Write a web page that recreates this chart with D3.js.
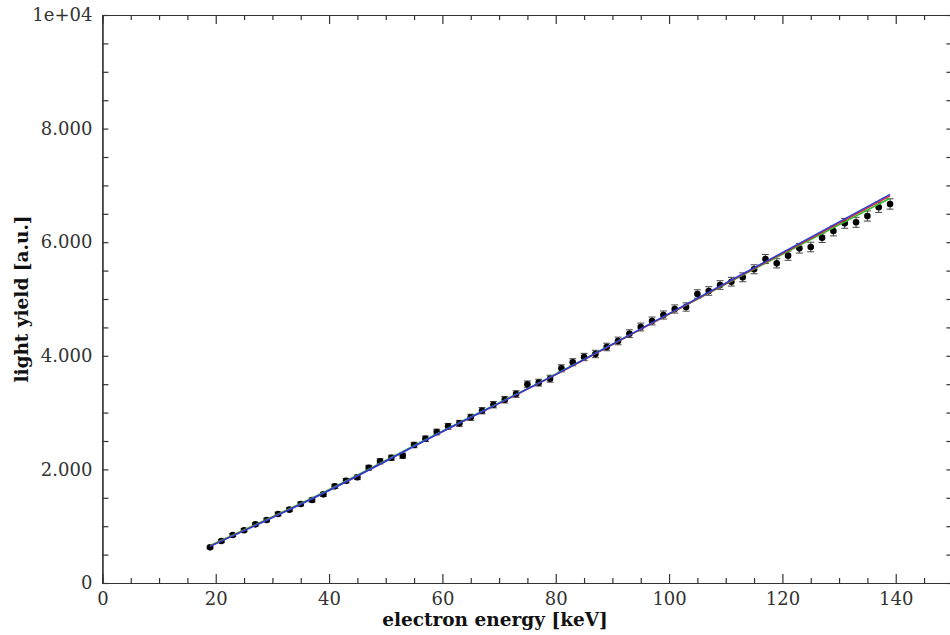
<!DOCTYPE html>
<html>
<head>
<meta charset="utf-8">
<script src="https://cdn.jsdelivr.net/npm/d3@7"></script>
<style>
  body { margin: 0; background: #fff; }
  svg { display: block; font-family: "DejaVu Serif", serif; }
</style>
</head>
<body>
<svg id="chart"></svg>
<script>
// measured electron energies [keV]
const energy = [19, 21, 23, 25, 27, 29, 31, 33, 35, 37, 39, 41, 43, 45, 47, 49, 51, 53, 55, 57,
  59, 61, 63, 65, 67, 69, 71, 73, 75, 77, 79, 81, 83, 85, 87, 89, 91, 93, 95, 97,
  99, 101, 103, 105, 107, 109, 111, 113, 115, 117, 119, 121, 123, 125, 127, 129, 131, 133, 135, 137, 139];

// light yield per energy bin [a.u.]
const lightYield = [628, 739, 845, 928, 1033, 1109, 1215, 1291, 1391, 1461, 1561, 1702, 1801, 1861, 2030, 2142, 2206, 2241, 2430, 2540,
  2658, 2758, 2811, 2917, 3033, 3139, 3227, 3327, 3498, 3527, 3597, 3780, 3886, 3979, 4032, 4155, 4261, 4389, 4507, 4613,
  4718, 4824, 4859, 5088, 5141, 5246, 5305, 5382, 5523, 5704, 5628, 5763, 5892, 5915, 6080, 6197, 6332, 6350, 6461, 6614, 6673];

// uncertainty on the light yield
const yieldErr = [22, 24, 26, 27, 29, 30, 31, 33, 34, 35, 37, 38, 40, 41, 42, 44, 45, 46, 48, 49,
  50, 51, 52, 54, 55, 56, 57, 58, 59, 60, 61, 62, 63, 64, 65, 66, 67, 68, 69, 70,
  71, 72, 73, 74, 75, 76, 77, 78, 79, 80, 81, 82, 83, 84, 85, 86, 87, 88, 89, 90, 91];

// fit curves sampled along the energy range
const fitEnergy = [19, 39, 59, 79, 99, 119, 139];
const fitGreen = [660, 1595, 2625, 3625, 4680, 5735, 6775];
const fitRed = [650, 1582, 2612, 3615, 4682, 5750, 6815];
const fitBlue = [645, 1580, 2615, 3620, 4690, 5765, 6843];

const xTicks = [0, 20, 40, 60, 80, 100, 120, 140];
const yTicks = [0, 2000, 4000, 6000, 8000, 10000];
const yTickLabels = ["0", "2.000", "4.000", "6.000", "8.000", "1e+04"];

const width = 950, height = 635;
const svg = d3.select("#chart").attr("width", width).attr("height", height);

const x = d3.scaleLinear().domain([0, 150]).range([102.4, 952.4]);
const y = d3.scaleLinear().domain([0, 10000]).range([583, 15]);

const axisColor = "#333";
const xMinor = d3.range(0, 151, 5).filter((d) => d % 20 !== 0);
const yMinor = d3.range(0, 10001, 500).filter((d) => d % 2000 !== 0);

// frame with inward ticks on all four sides
function styleAxis(g) {
  g.selectAll("path, line").attr("stroke", axisColor).attr("stroke-width", 1.2);
  g.selectAll("text").attr("fill", "#333").attr("font-size", 18)
    .attr("font-family", "DejaVu Serif, serif");
}

svg.append("g").attr("transform", `translate(0,${y(0)})`)
  .call(d3.axisBottom(x).tickValues(xTicks).tickSizeInner(-9).tickSizeOuter(0).tickPadding(9))
  .call(styleAxis);
svg.append("g").attr("transform", `translate(0,${y(0)})`)
  .call(d3.axisBottom(x).tickValues(xMinor).tickSize(-5).tickFormat(""))
  .call(styleAxis);
svg.append("g").attr("transform", `translate(0,${y(10000)})`)
  .call(d3.axisTop(x).tickValues(xTicks).tickSizeInner(-9).tickSizeOuter(0).tickFormat(""))
  .call(styleAxis);
svg.append("g").attr("transform", `translate(0,${y(10000)})`)
  .call(d3.axisTop(x).tickValues(xMinor).tickSize(-5).tickFormat(""))
  .call(styleAxis);

svg.append("g").attr("transform", `translate(${x(0)},0)`)
  .call(d3.axisLeft(y).tickValues(yTicks).tickSizeInner(-6).tickSizeOuter(0).tickPadding(10)
    .tickFormat((d, i) => yTickLabels[i]))
  .call(styleAxis);
svg.append("g").attr("transform", `translate(${x(0)},0)`)
  .call(d3.axisLeft(y).tickValues(yMinor).tickSize(-6).tickFormat(""))
  .call(styleAxis);
svg.append("g").attr("transform", `translate(${x(150)},0)`)
  .call(d3.axisRight(y).tickValues(yTicks.concat(yMinor)).tickSize(-6).tickSizeOuter(0).tickFormat(""))
  .call(styleAxis);

// axis titles
svg.append("text")
  .attr("x", 495).attr("y", 626)
  .attr("text-anchor", "middle")
  .attr("font-size", 18.5).attr("font-weight", "bold").attr("fill", "#111")
  .text("electron energy [keV]");
svg.append("text")
  .attr("transform", "translate(28,299) rotate(-90)")
  .attr("text-anchor", "middle")
  .attr("font-size", 18.5).attr("font-weight", "bold").attr("fill", "#111")
  .text("light yield [a.u.]");

// data points with error bars
const points = energy.map((e, i) => ({ e, v: lightYield[i], err: yieldErr[i] }));
const bars = svg.append("g").attr("stroke", "#444").attr("stroke-width", 1);
bars.selectAll(".err").data(points).join("line")
  .attr("class", "err")
  .attr("x1", (d) => x(d.e)).attr("x2", (d) => x(d.e))
  .attr("y1", (d) => y(d.v - d.err)).attr("y2", (d) => y(d.v + d.err));
bars.selectAll(".capTop").data(points).join("line")
  .attr("class", "capTop")
  .attr("x1", (d) => x(d.e) - 3.5).attr("x2", (d) => x(d.e) + 3.5)
  .attr("y1", (d) => y(d.v + d.err)).attr("y2", (d) => y(d.v + d.err));
bars.selectAll(".capBot").data(points).join("line")
  .attr("class", "capBot")
  .attr("x1", (d) => x(d.e) - 3.5).attr("x2", (d) => x(d.e) + 3.5)
  .attr("y1", (d) => y(d.v - d.err)).attr("y2", (d) => y(d.v - d.err));

svg.append("g").selectAll("circle").data(points).join("circle")
  .attr("cx", (d) => x(d.e)).attr("cy", (d) => y(d.v))
  .attr("r", 3.3).attr("fill", "#000");

// fit curves drawn over the points
const line = d3.line().x((d) => x(d[0])).y((d) => y(d[1])).curve(d3.curveMonotoneX);
const fits = [
  { vals: fitGreen, color: "#2dbe2d" },
  { vals: fitRed, color: "#e0202a" },
  { vals: fitBlue, color: "#2440e0" }
];
fits.forEach((f) => {
  svg.append("path")
    .datum(fitEnergy.map((e, i) => [e, f.vals[i]]))
    .attr("fill", "none")
    .attr("stroke", f.color)
    .attr("stroke-width", 1.5)
    .attr("d", line);
});
</script>
</body>
</html>
